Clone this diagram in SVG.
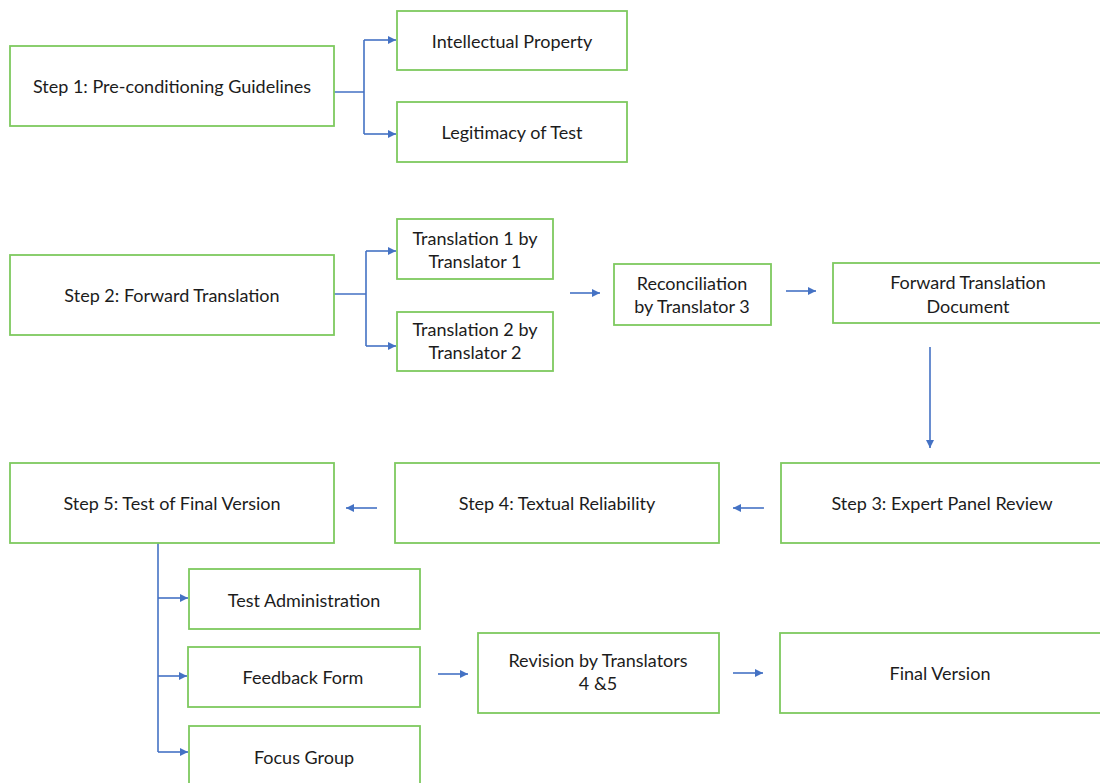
<svg xmlns="http://www.w3.org/2000/svg" width="1100" height="783" viewBox="0 0 1100 783">
<defs>
<marker id="ah" viewBox="0 0 10 10" refX="10" refY="5" markerWidth="8" markerHeight="8" markerUnits="userSpaceOnUse" orient="auto">
<path d="M0,0 L10,5 L0,10 z" fill="#4472c4"/>
</marker>
<style>
.box{fill:#fff;stroke:#7ec95f;stroke-width:1.8}
.t{font-family:Lato,"Liberation Sans",sans-serif;font-size:18px;fill:#1c1c1c;text-anchor:middle;dominant-baseline:central}
.c{fill:none;stroke:#4472c4;stroke-width:1.6}
.a{marker-end:url(#ah)}
</style>
</defs>
<rect width="1100" height="783" fill="#fff"/>
<g id="connectors">
<path class="c" d="M334,92 H364 M364,40 V134"/>
<path class="c a" d="M364,40 H396"/>
<path class="c a" d="M364,134 H396"/>
<path class="c" d="M334,294 H366 M366,251 V346"/>
<path class="c a" d="M366,251 H396"/>
<path class="c a" d="M366,346 H396"/>
<path class="c a" d="M570,293 H600"/>
<path class="c a" d="M786,291 H816"/>
<path class="c a" d="M930,347 V448"/>
<path class="c a" d="M764,508 H733"/>
<path class="c a" d="M377,508 H346"/>
<path class="c" d="M158,543 V752"/>
<path class="c a" d="M158,598 H188"/>
<path class="c a" d="M158,676 H187"/>
<path class="c a" d="M158,752 H188"/>
<path class="c a" d="M438,674 H468"/>
<path class="c a" d="M733,673 H763"/>
</g>
<g id="step1"><rect class="box" x="10" y="46" width="324" height="80"/><text class="t" x="172" y="86">Step 1: Pre-conditioning Guidelines</text></g>
<g id="ip"><rect class="box" x="397" y="11" width="230" height="59"/><text class="t" x="512" y="41">Intellectual Property</text></g>
<g id="legit"><rect class="box" x="397" y="102" width="230" height="60"/><text class="t" x="512" y="132">Legitimacy of Test</text></g>
<g id="step2"><rect class="box" x="10" y="255" width="324" height="80"/><text class="t" x="172" y="295">Step 2: Forward Translation</text></g>
<g id="tr1"><rect class="box" x="397" y="219" width="156" height="60"/><text class="t" x="475" y="238">Translation 1 by</text><text class="t" x="475" y="261">Translator 1</text></g>
<g id="tr2"><rect class="box" x="397" y="312" width="156" height="59"/><text class="t" x="475" y="329">Translation 2 by</text><text class="t" x="475" y="352">Translator 2</text></g>
<g id="recon"><rect class="box" x="614" y="264" width="157" height="61"/><text class="t" x="692" y="283">Reconciliation</text><text class="t" x="692" y="306">by Translator 3</text></g>
<g id="ftd"><rect class="box" x="833" y="263" width="275" height="60"/><text class="t" x="968" y="282">Forward Translation</text><text class="t" x="968" y="306">Document</text></g>
<g id="step3"><rect class="box" x="781" y="463" width="327" height="80"/><text class="t" x="942" y="503">Step 3: Expert Panel Review</text></g>
<g id="step4"><rect class="box" x="395" y="463" width="324" height="80"/><text class="t" x="557" y="503">Step 4: Textual Reliability</text></g>
<g id="step5"><rect class="box" x="10" y="463" width="324" height="80"/><text class="t" x="172" y="503">Step 5: Test of Final Version</text></g>
<g id="testadmin"><rect class="box" x="189" y="569" width="231" height="60"/><text class="t" x="304" y="600">Test Administration</text></g>
<g id="feedback"><rect class="box" x="188" y="647" width="232" height="60"/><text class="t" x="303" y="677">Feedback Form</text></g>
<g id="focus"><rect class="box" x="189" y="726" width="231" height="70"/><text class="t" x="304" y="757">Focus Group</text></g>
<g id="revision"><rect class="box" x="478" y="633" width="241" height="80"/><text class="t" x="598" y="660">Revision by Translators</text><text class="t" x="598" y="683">4 &amp;5</text></g>
<g id="final"><rect class="box" x="780" y="633" width="328" height="80"/><text class="t" x="940" y="673">Final Version</text></g>
</svg>
